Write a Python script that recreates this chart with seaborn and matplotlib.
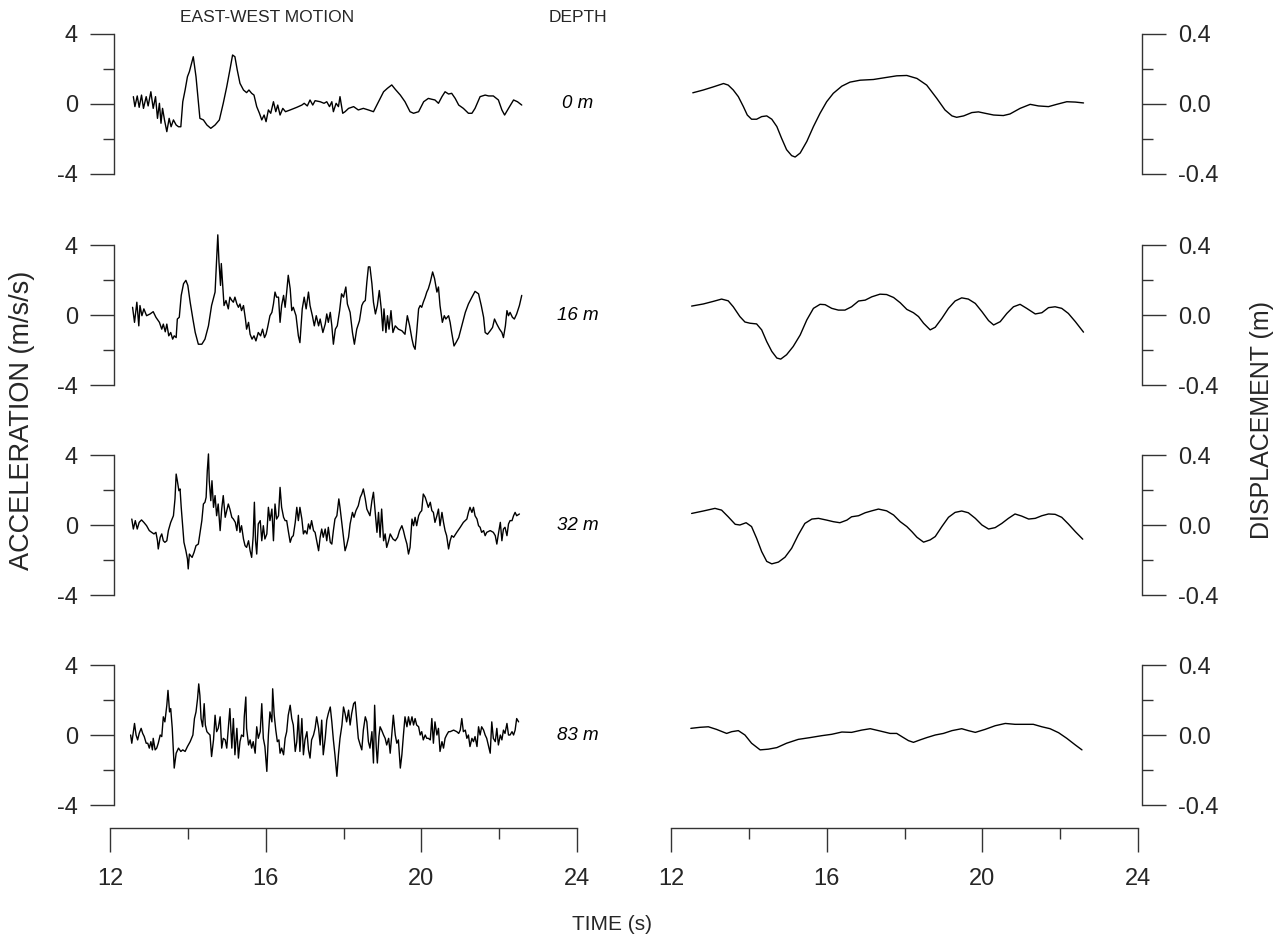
import matplotlib
matplotlib.use("Agg")
import matplotlib.pyplot as plt
import seaborn as sns
import pandas as pd
from matplotlib.ticker import FixedLocator

# ---------------- data ----------------
depths = ["0 m", "16 m", "32 m", "83 m"]

t_acc_0 = [12.60,12.64,12.70,12.75,12.81,12.86,12.93,12.98,13.05,13.11,13.17,13.22,13.27,13.31,13.35,13.40,13.46,13.52,13.57,13.63,
           13.70,13.76,13.82,13.87,13.93,13.99,14.04,14.14,14.21,14.25,14.31,14.40,14.49,14.59,14.70,14.81,14.91,15.00,15.08,15.15,
           15.21,15.27,15.34,15.43,15.51,15.57,15.64,15.70,15.77,15.84,15.90,15.96,16.01,16.07,16.13,16.20,16.26,16.31,16.37,16.44,
           16.51,16.63,16.80,16.93,16.99,17.07,17.14,17.21,17.27,17.40,17.50,17.57,17.64,17.70,17.74,17.81,17.87,17.91,17.98,18.04,
           18.13,18.26,18.38,18.51,18.64,18.77,18.90,19.03,19.13,19.24,19.33,19.46,19.58,19.71,19.80,19.93,20.06,20.18,20.27,20.35,
           20.44,20.53,20.61,20.70,20.78,20.87,20.96,21.08,21.21,21.30,21.38,21.51,21.64,21.73,21.85,21.98,22.07,22.14,22.24,22.37,
           22.47,22.58]
acc_0 = [0.42,-0.15,0.46,-0.19,0.51,-0.25,0.42,-0.11,0.70,-0.25,0.42,-0.82,0.04,-1.10,-0.25,-0.91,-1.58,-0.82,-1.30,-0.91,
         -1.20,-1.30,-1.30,0.13,0.80,1.56,1.85,2.70,1.56,0.61,-0.82,-0.91,-1.20,-1.39,-1.20,-0.91,0.04,0.99,1.94,2.80,
         2.70,1.94,1.18,0.80,0.65,0.80,0.61,0.51,-0.15,-0.53,-0.91,-0.63,-1.01,-0.34,-0.53,0.13,-0.44,-0.06,-0.63,-0.25,
         -0.44,-0.34,-0.19,-0.06,0.04,-0.11,0.23,-0.06,0.19,0.13,0.04,0.13,-0.15,0.13,-0.44,0.04,-0.15,0.42,-0.53,-0.44,
         -0.25,-0.15,-0.34,-0.25,-0.34,-0.44,0.13,0.70,0.90,1.09,0.84,0.51,0.13,-0.44,-0.53,-0.44,0.13,0.32,0.27,0.23,
         0.04,0.42,0.70,0.57,0.61,0.32,-0.06,-0.25,-0.53,-0.53,-0.25,0.42,0.51,0.46,0.46,0.23,-0.34,-0.63,-0.25,0.23,
         0.13,-0.06]

t_acc_16 = [12.58,12.63,12.69,12.74,12.77,12.82,12.87,12.94,13.03,13.11,13.18,13.27,13.33,13.37,13.42,13.46,13.51,13.56,13.61,13.65,
            13.70,13.73,13.78,13.83,13.89,13.95,14.00,14.06,14.13,14.19,14.27,14.36,14.44,14.53,14.61,14.70,14.74,14.77,14.80,14.84,
            14.86,14.90,14.93,14.98,15.04,15.08,15.13,15.17,15.21,15.26,15.30,15.34,15.38,15.43,15.48,15.51,15.56,15.60,15.65,15.70,
            15.75,15.81,15.87,15.92,15.97,16.01,16.05,16.11,16.16,16.20,16.24,16.28,16.33,16.37,16.41,16.46,16.50,16.54,16.58,16.63,
            16.67,16.71,16.78,16.84,16.88,16.94,16.99,17.04,17.10,17.14,17.20,17.25,17.30,17.36,17.40,17.47,17.53,17.57,17.61,17.66,
            17.70,17.74,17.79,17.84,17.90,17.95,18.00,18.06,18.10,18.17,18.23,18.28,18.34,18.41,18.47,18.51,18.56,18.60,18.64,18.68,
            18.73,18.77,18.82,18.87,18.92,18.97,19.01,19.04,19.09,19.13,19.17,19.22,19.27,19.33,19.41,19.50,19.58,19.64,19.70,19.76,
            19.80,19.84,19.88,19.93,19.97,20.01,20.05,20.10,20.14,20.18,20.23,20.29,20.34,20.40,20.44,20.48,20.54,20.59,20.63,20.70,
            20.74,20.78,20.84,20.89,20.96,21.04,21.13,21.21,21.30,21.38,21.47,21.54,21.60,21.64,21.70,21.77,21.83,21.88,21.94,22.01,
            22.07,22.11,22.16,22.20,22.24,22.28,22.34,22.39,22.45,22.52,22.58]
acc_16 = [0.44,-0.42,0.73,-0.62,0.54,-0.04,0.35,-0.04,0.06,0.19,-0.13,-0.42,-0.81,-0.52,-0.96,-0.52,-1.19,-1.00,-1.38,-1.19,
          -1.29,-0.23,-0.13,1.12,1.79,1.98,1.69,0.73,-0.23,-1.00,-1.67,-1.67,-1.38,-0.62,0.54,1.31,3.23,4.58,3.04,1.69,
          2.94,1.60,0.54,0.83,0.35,1.02,0.83,0.73,1.02,0.63,0.44,0.63,0.25,0.54,-0.23,-0.81,-0.42,-1.10,-1.38,-1.19,
          -1.48,-1.00,-1.19,-0.81,-1.29,-1.10,-0.71,-0.04,0.15,0.63,1.31,1.02,1.02,-0.42,0.54,1.12,0.44,1.31,2.27,1.50,
          0.25,0.44,-0.04,-1.19,-1.58,0.35,1.02,0.35,1.31,0.54,-0.04,-0.62,-0.04,-0.62,-0.23,-1.00,-0.52,0.06,-0.42,0.15,
          -0.62,-1.67,-0.81,-0.62,0.25,1.21,1.02,1.60,0.63,0.15,-1.00,-1.67,-0.81,-0.33,0.54,0.73,0.83,1.88,2.75,2.75,
          1.79,0.73,0.06,0.54,1.40,0.35,-0.90,0.35,-1.00,-0.04,-0.81,0.25,-1.00,-0.62,-0.81,-0.90,-1.10,-0.04,-0.62,-1.38,
          -1.77,-1.96,-1.00,0.35,0.54,0.44,0.73,1.02,1.31,1.50,1.88,2.46,2.08,1.31,1.60,0.54,-0.42,-0.04,-0.23,-0.04,
          -0.42,-1.00,-1.77,-1.58,-1.29,-0.62,0.15,0.63,1.02,1.35,1.21,0.54,-0.13,-1.00,-1.10,-0.90,-0.71,-0.23,-0.52,-0.81,
          -1.00,-1.29,-0.62,0.25,-0.04,0.15,-0.13,-0.23,0.06,0.54,1.12]

t_acc_32 = [12.56,12.60,12.65,12.70,12.75,12.81,12.87,12.94,13.01,13.07,13.13,13.18,13.22,13.24,13.29,13.33,13.37,13.41,13.46,13.50,
            13.56,13.63,13.67,13.70,13.73,13.77,13.80,13.83,13.87,13.90,13.93,13.95,13.99,14.01,14.04,14.07,14.11,14.16,14.21,14.27,
            14.31,14.36,14.40,14.44,14.47,14.50,14.53,14.55,14.59,14.62,14.66,14.70,14.74,14.78,14.83,14.87,14.91,14.96,15.00,15.04,
            15.08,15.13,15.17,15.22,15.26,15.30,15.34,15.38,15.43,15.47,15.51,15.56,15.60,15.64,15.68,15.71,15.74,15.77,15.81,15.86,
            15.90,15.94,15.98,16.03,16.07,16.11,16.16,16.20,16.24,16.28,16.33,16.37,16.41,16.46,16.50,16.54,16.58,16.63,16.67,16.71,
            16.76,16.80,16.84,16.88,16.93,16.97,17.01,17.06,17.10,17.14,17.18,17.23,17.27,17.31,17.36,17.40,17.44,17.48,17.53,17.57,
            17.61,17.66,17.70,17.74,17.78,17.83,17.88,17.91,17.96,18.00,18.04,18.08,18.13,18.17,18.23,18.27,18.32,18.38,18.43,18.47,
            18.51,18.56,18.60,18.64,18.68,18.73,18.77,18.81,18.86,18.90,18.94,18.98,19.03,19.07,19.11,19.16,19.20,19.27,19.33,19.39,
            19.44,19.50,19.54,19.58,19.63,19.67,19.71,19.76,19.80,19.84,19.88,19.93,19.97,20.01,20.05,20.10,20.14,20.18,20.23,20.27,
            20.31,20.35,20.40,20.44,20.48,20.53,20.57,20.61,20.65,20.70,20.74,20.78,20.83,20.91,21.00,21.08,21.17,21.21,21.25,21.30,
            21.34,21.38,21.43,21.47,21.51,21.55,21.60,21.64,21.68,21.77,21.85,21.90,21.94,21.98,22.03,22.07,22.11,22.15,22.20,22.24,
            22.28,22.33,22.37,22.41,22.45,22.52]
acc_32 = [0.34,-0.23,0.25,-0.23,0.15,0.29,0.15,-0.04,-0.32,-0.42,-0.51,-0.42,-0.90,-1.37,-0.70,-0.51,-0.90,-0.99,-0.90,-0.32,
          0.15,0.53,1.49,2.91,2.53,1.96,2.06,1.01,-0.13,-0.99,-1.28,-1.47,-1.94,-2.51,-1.66,-1.75,-1.85,-1.56,-1.18,-1.09,
          -0.51,0.25,1.20,1.30,1.58,3.10,4.06,2.53,1.39,2.53,1.01,1.68,0.53,1.20,-0.32,0.91,1.68,0.44,0.82,1.20,
          0.91,0.44,0.34,0.15,-0.32,0.53,-0.42,-0.04,-0.80,-1.18,-1.28,-0.90,-1.47,-1.85,-0.61,1.30,-0.90,-1.66,0.06,0.25,
          -0.90,-0.04,-0.80,-0.51,1.01,0.25,0.91,-0.90,1.20,0.34,0.53,2.15,1.01,0.44,0.25,0.25,-0.32,-0.99,-0.70,-0.61,
          0.15,1.01,0.25,1.01,0.34,-0.51,-0.32,-0.51,0.06,-0.23,0.25,-0.32,-0.42,-0.90,-1.47,-0.70,-0.23,-0.70,-0.23,-0.90,
          -0.13,-0.99,-1.09,-0.32,0.34,0.53,1.49,1.01,0.06,-0.70,-1.47,-1.18,-0.70,0.06,0.72,0.44,0.82,1.10,1.58,1.77,
          2.06,1.49,0.91,0.72,0.53,1.39,1.87,0.82,-0.42,0.72,-0.70,0.91,-0.90,-0.51,-1.28,-0.90,-0.51,-0.80,-0.90,-0.70,
          -0.32,-0.04,-0.32,-0.70,-1.09,-1.66,-1.28,0.34,-0.04,0.44,-0.04,0.53,0.72,0.82,1.77,1.58,1.30,1.01,1.30,0.82,
          0.72,0.15,0.53,0.91,-0.04,0.72,0.15,-0.32,-0.61,-1.37,-0.90,-0.61,-0.70,-0.42,-0.13,0.15,0.34,0.72,1.01,0.72,
          1.01,0.53,0.34,-0.04,-0.13,-0.42,-0.32,-0.61,-0.42,-0.32,-0.42,-0.61,-1.09,-0.51,0.15,-0.90,-0.23,-0.13,-0.61,0.06,
          0.25,0.25,0.53,0.72,0.53,0.63]

t_acc_83 = [12.53,12.56,12.60,12.63,12.67,12.71,12.75,12.80,12.84,12.88,12.93,12.97,13.01,13.05,13.09,13.11,13.16,13.20,13.24,13.29,
            13.33,13.37,13.41,13.46,13.49,13.53,13.56,13.60,13.65,13.70,13.76,13.82,13.87,13.93,13.99,14.06,14.13,14.17,14.21,14.25,
            14.28,14.31,14.34,14.38,14.42,14.45,14.49,14.53,14.57,14.61,14.66,14.70,14.74,14.78,14.83,14.87,14.91,14.96,15.00,15.04,
            15.08,15.13,15.17,15.21,15.26,15.30,15.34,15.38,15.43,15.45,15.49,15.51,15.56,15.60,15.64,15.68,15.73,15.77,15.81,15.86,
            15.90,15.94,15.98,16.03,16.07,16.11,16.16,16.18,16.22,16.26,16.30,16.34,16.37,16.41,16.46,16.50,16.54,16.58,16.63,16.67,
            16.71,16.76,16.80,16.84,16.88,16.93,16.97,17.01,17.06,17.10,17.14,17.18,17.23,17.27,17.31,17.36,17.40,17.44,17.48,17.53,
            17.57,17.61,17.66,17.70,17.74,17.78,17.83,17.87,17.91,17.96,18.00,18.04,18.08,18.13,18.17,18.21,18.26,18.30,18.34,18.38,
            18.43,18.47,18.51,18.56,18.60,18.64,18.68,18.73,18.77,18.80,18.84,18.87,18.91,18.94,18.98,19.03,19.07,19.11,19.16,19.20,
            19.24,19.28,19.33,19.37,19.41,19.46,19.50,19.54,19.58,19.63,19.67,19.71,19.76,19.80,19.84,19.88,19.93,19.97,20.01,20.05,
            20.10,20.14,20.18,20.23,20.27,20.31,20.35,20.40,20.44,20.48,20.53,20.57,20.61,20.65,20.70,20.74,20.83,20.91,20.96,21.00,
            21.04,21.08,21.13,21.17,21.21,21.25,21.30,21.34,21.38,21.43,21.47,21.51,21.55,21.60,21.64,21.68,21.73,21.77,21.81,21.85,
            21.90,21.94,21.98,22.03,22.07,22.11,22.15,22.20,22.24,22.28,22.33,22.37,22.41,22.45,22.50]
acc_83 = [0.00,-0.47,0.19,0.66,0.00,-0.28,0.09,0.38,0.09,-0.09,-0.47,-0.47,-0.75,-0.38,-0.85,-0.19,-0.85,-0.75,-0.47,0.00,
          -0.09,1.04,0.75,1.70,2.55,1.32,1.51,0.38,-1.89,-1.04,-0.75,-0.94,-0.85,-0.94,-0.66,-0.38,0.00,0.94,1.32,2.08,
          2.92,2.26,0.94,0.47,1.79,0.57,0.19,0.09,0.00,-1.23,-0.28,1.13,0.19,0.38,1.04,-0.75,-0.19,-0.28,-0.75,0.38,
          1.51,-0.75,0.94,-1.13,0.38,-1.32,-0.38,0.00,-0.09,1.04,2.17,0.38,-0.57,-0.28,-0.75,-0.38,-1.04,0.47,-0.19,0.19,
          1.79,-0.19,-0.66,-2.08,0.00,1.32,0.75,2.64,1.13,0.28,-0.38,-0.28,-1.04,-0.75,-1.13,-0.19,0.19,1.13,1.70,0.94,
          0.57,-0.94,-0.38,1.13,-0.94,0.94,-1.13,-0.28,0.19,-0.85,-1.32,-0.28,0.00,0.38,1.04,0.38,-0.57,0.85,-1.13,-0.19,
          0.85,1.23,1.60,0.75,-0.28,-1.13,-2.36,-1.13,-0.19,0.57,1.60,1.23,0.75,1.42,0.57,1.23,1.79,1.89,0.85,-0.19,
          -0.57,-0.85,0.28,1.04,0.75,-0.38,-0.75,0.19,-1.60,1.70,-0.66,-1.60,-0.09,0.47,0.28,0.00,-0.19,-0.57,-0.19,-1.04,
          0.00,1.13,0.00,-0.47,-0.28,-1.89,-1.13,0.00,1.04,0.47,1.04,0.57,1.04,0.57,0.94,0.57,0.47,0.00,0.19,-0.28,
          0.00,-0.19,-0.19,-0.28,0.94,-0.47,0.75,0.00,0.38,-0.94,-0.38,-0.75,-0.19,0.00,0.19,0.19,0.28,0.19,0.09,0.28,
          0.94,0.19,0.28,-0.19,0.00,-0.66,-0.19,-0.38,-0.09,-0.66,0.47,0.00,0.47,0.28,0.00,-0.19,-0.66,-1.04,0.75,-0.19,
          -0.38,0.38,-0.57,0.00,-0.28,0.28,0.09,0.66,0.00,0.00,0.19,0.00,0.28,0.94,0.75]

t_dis_0 = [12.56,12.83,13.09,13.35,13.47,13.60,13.73,13.86,13.96,14.07,14.20,14.33,14.46,14.59,14.72,14.84,14.97,15.10,15.19,15.32,
           15.49,15.66,15.83,16.00,16.17,16.39,16.60,16.86,17.20,17.54,17.80,18.06,18.32,18.57,18.83,19.04,19.22,19.34,19.52,19.73,
           19.90,20.07,20.29,20.54,20.71,20.97,21.23,21.44,21.70,21.91,22.17,22.39,22.60]
dis_0 = [0.064,0.080,0.098,0.117,0.108,0.080,0.042,-0.015,-0.063,-0.087,-0.087,-0.072,-0.068,-0.087,-0.129,-0.195,-0.261,-0.295,-0.303,-0.280,
         -0.214,-0.129,-0.053,0.013,0.061,0.102,0.125,0.136,0.140,0.152,0.161,0.163,0.146,0.108,0.032,-0.034,-0.068,-0.076,-0.068,-0.049,
         -0.045,-0.053,-0.063,-0.066,-0.057,-0.025,-0.002,-0.011,-0.015,-0.002,0.013,0.011,0.006]

t_dis_16 = [12.53,12.83,13.09,13.30,13.47,13.60,13.77,13.90,14.03,14.20,14.33,14.46,14.59,14.72,14.82,14.97,15.14,15.32,15.49,15.66,
            15.83,15.96,16.13,16.30,16.47,16.64,16.82,16.99,17.16,17.37,17.54,17.72,17.89,18.06,18.23,18.36,18.49,18.66,18.79,18.96,
            19.13,19.30,19.47,19.64,19.82,19.99,20.16,20.29,20.46,20.63,20.80,20.97,21.14,21.36,21.53,21.70,21.87,22.04,22.21,22.39,
            22.60]
dis_16 = [0.051,0.063,0.078,0.091,0.081,0.047,-0.009,-0.040,-0.047,-0.051,-0.085,-0.152,-0.208,-0.246,-0.252,-0.227,-0.180,-0.114,-0.028,0.038,
          0.061,0.059,0.038,0.028,0.028,0.047,0.080,0.085,0.104,0.119,0.117,0.100,0.070,0.032,0.013,-0.009,-0.047,-0.085,-0.070,-0.019,
          0.038,0.080,0.098,0.091,0.066,0.019,-0.032,-0.057,-0.038,0.009,0.047,0.061,0.038,0.006,0.013,0.042,0.047,0.038,0.009,-0.038,
          -0.098]

t_dis_32 = [12.53,12.83,13.13,13.30,13.47,13.65,13.77,13.93,14.07,14.20,14.33,14.46,14.59,14.76,14.93,15.10,15.27,15.44,15.62,15.79,
            16.00,16.17,16.34,16.52,16.64,16.82,16.99,17.16,17.33,17.54,17.72,17.89,18.06,18.19,18.32,18.49,18.66,18.79,18.96,19.13,
            19.30,19.47,19.64,19.82,19.99,20.16,20.33,20.50,20.67,20.84,21.01,21.19,21.36,21.53,21.70,21.87,22.04,22.21,22.39,22.58]
dis_32 = [0.066,0.080,0.095,0.085,0.047,0.004,0.000,0.013,-0.009,-0.076,-0.152,-0.208,-0.222,-0.212,-0.184,-0.133,-0.057,0.009,0.034,0.038,
          0.028,0.019,0.013,0.028,0.047,0.053,0.070,0.081,0.091,0.081,0.057,0.019,-0.009,-0.038,-0.070,-0.098,-0.085,-0.066,-0.009,0.044,
          0.072,0.080,0.070,0.038,0.000,-0.023,-0.015,0.009,0.038,0.063,0.051,0.034,0.038,0.053,0.063,0.061,0.044,0.006,-0.038,-0.081]

t_dis_83 = [12.51,12.75,12.96,13.17,13.43,13.56,13.73,13.90,14.07,14.29,14.50,14.72,14.97,15.27,15.57,15.87,16.13,16.39,16.64,16.90,
            17.12,17.37,17.63,17.80,17.93,18.10,18.23,18.40,18.57,18.79,19.00,19.22,19.47,19.64,19.82,20.07,20.33,20.59,20.84,21.06,
            21.31,21.53,21.74,21.96,22.17,22.39,22.56]
dis_83 = [0.038,0.044,0.047,0.032,0.009,0.019,0.025,0.000,-0.047,-0.085,-0.081,-0.072,-0.047,-0.025,-0.015,-0.004,0.004,0.017,0.015,0.028,
          0.036,0.023,0.009,0.009,-0.009,-0.032,-0.042,-0.028,-0.015,0.000,0.009,0.025,0.036,0.025,0.015,0.032,0.053,0.066,0.061,0.061,
          0.061,0.047,0.036,0.013,-0.019,-0.057,-0.085]

acc_times = [t_acc_0, t_acc_16, t_acc_32, t_acc_83]
acc_vals = [acc_0, acc_16, acc_32, acc_83]
dis_times = [t_dis_0, t_dis_16, t_dis_32, t_dis_83]
dis_vals = [dis_0, dis_16, dis_32, dis_83]

x_major = [12, 16, 20, 24]
x_minor = [14, 18, 22]
acc_major = [-4, 0, 4]
acc_minor = [-2, 2]
dis_major = [-0.4, 0.0, 0.4]
dis_minor = [-0.2, 0.2]

# ---------------- style ----------------
sns.set_theme(style="white")
plt.rcParams["font.family"] = ["Liberation Sans", "DejaVu Sans"]
plt.rcParams["axes.unicode_minus"] = False

W, H = 1284, 942
fig = plt.figure(figsize=(W / 100, H / 100), dpi=100)
fig.patch.set_facecolor("white")

AX_COL = "#333333"
FS_TICK = 17

def fx(px):
    return px / W

def fy(py):
    return 1 - py / H

left_x0, right_x0, col_w = 110, 671, 467
row_tops = [34, 245, 455, 665]
row_h = 140

def style_y(ax, side, major, minor, lim):
    ax.set_xlim(12, 24)
    ax.set_ylim(*lim)
    for s in ["top", "bottom", "left", "right"]:
        ax.spines[s].set_visible(False)
    ax.spines[side].set_visible(True)
    ax.spines[side].set_color(AX_COL)
    ax.spines[side].set_linewidth(1.0)
    ax.spines[side].set_position(("outward", -2.9 if side == "left" else 2.9))
    ax.set_facecolor("none")
    ax.set_xticks([])
    if side == "right":
        ax.yaxis.tick_right()
    ax.yaxis.set_major_locator(FixedLocator(major))
    ax.yaxis.set_minor_locator(FixedLocator(minor))
    ax.tick_params(axis="y", which="major", direction="out", length=17, width=1.0,
                   color=AX_COL, labelsize=FS_TICK, pad=9, left=(side == "left"),
                   right=(side == "right"), labelleft=(side == "left"),
                   labelright=(side == "right"))
    ax.tick_params(axis="y", which="minor", direction="out", length=8, width=1.0,
                   color=AX_COL, left=(side == "left"), right=(side == "right"))
    ax.set_xlabel("")
    ax.set_ylabel("")

for i in range(4):
    bottom = fy(row_tops[i] + row_h)
    h = row_h / H
    axl = fig.add_axes([fx(left_x0), bottom, col_w / W, h])
    df = pd.DataFrame({"t": acc_times[i], "a": acc_vals[i]})
    sns.lineplot(data=df, x="t", y="a", ax=axl, color="black", linewidth=1.0,
                 sort=False, estimator=None)
    for ln in axl.lines:
        ln.set_clip_on(False)
    style_y(axl, "left", acc_major, acc_minor, (-4, 4))

    axr = fig.add_axes([fx(right_x0), bottom, col_w / W, h])
    dfd = pd.DataFrame({"t": dis_times[i], "d": dis_vals[i]})
    sns.lineplot(data=dfd, x="t", y="d", ax=axr, color="black", linewidth=1.0,
                 sort=False, estimator=None)
    for ln in axr.lines:
        ln.set_clip_on(False)
    style_y(axr, "right", dis_major, dis_minor, (-0.4, 0.4))

    fig.text(fx(578), fy(row_tops[i] + 70), depths[i], ha="center", va="center",
             fontsize=13.5, style="italic", color="black")

# bottom time axes
for x0 in (left_x0, right_x0):
    axb = fig.add_axes([fx(x0), fy(828), col_w / W, 0.0005])
    axb.set_xlim(12, 24)
    axb.set_facecolor("none")
    for s in ["top", "left", "right"]:
        axb.spines[s].set_visible(False)
    axb.spines["bottom"].set_color(AX_COL)
    axb.spines["bottom"].set_linewidth(1.0)
    axb.set_yticks([])
    axb.xaxis.set_major_locator(FixedLocator(x_major))
    axb.xaxis.set_minor_locator(FixedLocator(x_minor))
    axb.tick_params(axis="x", which="major", direction="out", length=17, width=1.0,
                    color=AX_COL, labelsize=FS_TICK, pad=12, bottom=True)
    axb.tick_params(axis="x", which="minor", direction="out", length=8, width=1.0,
                    color=AX_COL, bottom=True)

fig.text(fx(267), fy(18), "EAST-WEST MOTION", ha="center", va="center", fontsize=12.5)
fig.text(fx(578), fy(18), "DEPTH", ha="center", va="center", fontsize=12.5)
fig.text(fx(22), fy(420), "ACCELERATION (m/s/s)", ha="center", va="center",
         rotation=90, fontsize=19.5)
fig.text(fx(1262), fy(420), "DISPLACEMENT (m)", ha="center", va="center",
         rotation=90, fontsize=18)
fig.text(fx(612), fy(925), "TIME (s)", ha="center", va="center", fontsize=15)

fig.savefig("out.png", dpi=100, facecolor="white")
